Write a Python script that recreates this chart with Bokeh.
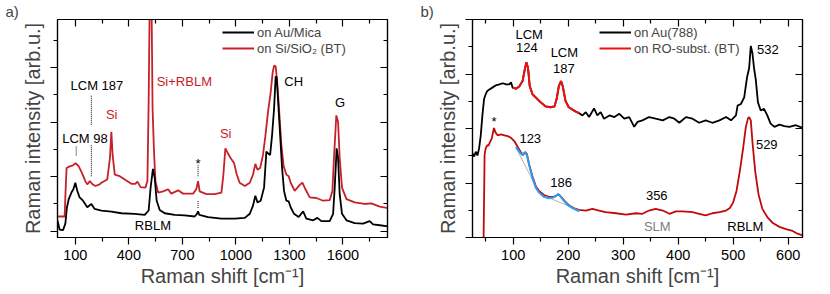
from bokeh.plotting import figure
from bokeh.layouts import row
from bokeh.models import (LinearAxis, FixedTicker, CustomJSTickFormatter, Legend,
                          LegendItem, ColumnDataSource)
from bokeh.core.properties import value
from bokeh.embed import file_html
from bokeh.resources import INLINE

FONT = "Liberation Sans"

# ---------------- panel a data ----------------
a_black_x = [0, 12, 31, 44, 53, 63, 78, 89, 100, 111, 124, 143, 167, 190, 208, 246, 302, 358, 433,
             489, 511, 522, 535, 545, 556, 573, 601, 657, 713, 769, 782, 788, 795, 844, 919, 993,
             1050, 1078, 1096, 1109, 1121, 1139, 1158, 1171, 1180, 1192, 1203, 1214, 1223, 1229,
             1236, 1248, 1259, 1270, 1283, 1296, 1307, 1326, 1352, 1377, 1395, 1433, 1457, 1479,
             1526, 1545, 1554, 1565, 1573, 1582, 1595, 1620, 1666, 1713, 1750, 1769, 1807, 1853]
a_black_y = [0.40, 0.06, 0.04, 0.28, 0.88, 1.18, 1.42, 1.54, 1.78, 1.48, 1.24, 1.12, 0.88, 1.00,
             0.82, 0.76, 0.72, 0.66, 0.64, 0.60, 0.76, 1.60, 2.29, 1.96, 1.12, 0.78, 0.66, 0.60,
             0.58, 0.54, 0.64, 0.73, 0.60, 0.52, 0.46, 0.46, 0.49, 0.64, 0.94, 1.30, 1.06, 1.12,
             1.60, 2.92, 2.86, 2.80, 3.53, 4.49, 5.69, 5.63, 4.85, 3.53, 2.32, 1.48, 1.12, 1.10,
             0.88, 0.64, 0.52, 0.73, 0.46, 0.40, 0.49, 0.37, 0.37, 0.64, 1.60, 3.04, 2.68, 1.36,
             0.64, 0.40, 0.30, 0.28, 0.37, 0.25, 0.22, 0.18]

a_red_x = [0, 40, 46, 51, 68, 87, 102, 119, 137, 156, 167, 182, 193, 212, 236, 246, 279, 294, 302,
           309, 321, 349, 377, 414, 436, 448, 466, 493, 504, 511, 517, 522, 527, 533, 541, 549,
           564, 592, 620, 638, 676, 704, 760, 778, 788, 797, 835, 881, 919, 930, 941, 952, 971,
           990, 1005, 1021, 1050, 1078, 1096, 1109, 1121, 1136, 1152, 1165, 1180, 1195, 1206,
           1214, 1223, 1232, 1242, 1255, 1268, 1283, 1296, 1307, 1330, 1358, 1373, 1390, 1414,
           1451, 1489, 1526, 1541, 1550, 1563, 1573, 1582, 1595, 1620, 1666, 1722, 1760, 1807, 1853]
a_red_y = [0.54, 0.54, 1.60, 2.32, 2.38, 2.42, 2.50, 2.38, 2.14, 1.84, 1.72, 1.84, 1.74, 1.66,
           1.72, 1.78, 1.90, 2.68, 3.65, 2.80, 2.08, 2.02, 1.90, 1.74, 1.74, 1.82, 1.62, 1.60,
           1.84, 4.73, 8.5, 9.8, 8.5, 4.5, 2.92, 1.84, 1.42, 1.46, 1.54, 1.38, 1.50, 1.38, 1.38,
           1.54, 1.84, 1.46, 1.36, 1.36, 1.42, 2.08, 3.04, 2.90, 2.68, 2.50, 2.08, 1.78, 1.66,
           1.78, 2.08, 2.47, 2.26, 2.32, 2.80, 3.47, 4.37, 5.09, 5.81, 6.08, 6.05, 5.45, 4.49,
           3.16, 2.38, 2.08, 2.02, 1.78, 1.48, 1.70, 1.78, 1.54, 1.24, 1.22, 1.12, 1.14, 1.48,
           2.68, 4.25, 4.01, 2.68, 1.60, 1.18, 1.06, 1.00, 1.02, 0.90, 0.85]

a_x_ticks = [100, 400, 700, 1000, 1300, 1600]
a_x_minor = [250, 550, 850, 1150, 1450, 1750]
a_y_ticks = [0, 2, 4, 6]
a_y_minor = [1, 3, 5, 7]

# annotations panel a
a_lab_text = ["LCM 187", "LCM 98", "Si", "Si+RBLM", "Si", "CH", "G", "RBLM", "*"]
a_lab_x = [221, 154, 304, 711, 943, 1324, 1584, 535, 788]
a_lab_y = [5.33, 3.41, 4.27, 5.49, 3.60, 5.49, 4.73, 0.22, 2.50]
a_lab_col = ["black", "black", "#c8202a", "#c8202a", "#c8202a", "black", "black", "black", "black"]
# dotted markers: x, y0, y1
a_mark_x = [105, 190, 190, 788, 788]
a_mark_y0 = [2.78, 3.91, 2.02, 2.02, 0.85]
a_mark_y1 = [3.14, 4.97, 3.16, 2.44, 1.14]

# ---------------- panel b data ----------------
b_black_x = [26, 29, 32, 35, 38, 41, 44, 47, 50, 53, 56, 62, 68, 75, 81, 87, 93, 96, 99, 105, 111,
             117, 121, 124, 127, 130, 135, 141, 150, 159, 168, 175, 179, 183, 187, 190, 195, 201,
             208, 214, 220, 226, 232, 238, 247, 253, 259, 265, 275, 284, 293, 302, 311, 320, 326,
             335, 347, 359, 372, 384, 393, 402, 414, 426, 438, 450, 462, 475, 487, 496, 505, 508,
             514, 520, 525, 529, 532, 535, 538, 541, 545, 550, 556, 562, 568, 575, 584, 593, 602,
             614, 626]
b_black_y = [3.09, 2.97, 3.15, 3.01, 3.27, 3.75, 4.48, 5.08, 5.26, 5.38, 5.42, 5.50, 5.58, 5.62,
             5.66, 5.62, 5.62, 5.70, 5.50, 5.46, 5.54, 5.74, 6.16, 6.43, 6.22, 5.56, 5.26, 5.14,
             4.96, 4.81, 4.78, 4.81, 5.08, 5.56, 5.74, 5.56, 5.02, 4.78, 4.69, 4.62, 4.56, 4.48,
             4.60, 4.42, 4.74, 4.48, 4.60, 4.36, 4.48, 4.42, 4.54, 4.36, 4.42, 4.06, 4.24, 4.30,
             4.42, 4.36, 4.30, 4.42, 4.36, 4.21, 4.42, 4.36, 4.21, 4.30, 4.21, 4.30, 4.42, 4.30,
             4.48, 4.84, 4.90, 5.14, 5.86, 6.22, 7.03, 6.76, 6.20, 5.80, 4.96, 4.66, 4.72, 4.48,
             4.18, 4.06, 4.14, 4.09, 4.06, 4.12, 4.02]

b_lcm_x = [99, 105, 111, 117, 121, 124, 127, 130, 135, 141, 150, 159, 168, 175, 179, 183, 187,
           190, 195, 201, 208, 214, 220]
b_lcm_y = [5.50, 5.46, 5.54, 5.74, 6.16, 6.43, 6.22, 5.56, 5.26, 5.14, 4.96, 4.81, 4.78, 4.81,
           5.08, 5.56, 5.74, 5.56, 5.02, 4.78, 4.69, 4.62, 4.56]

b_red_x = [46, 48, 50, 53, 55, 58, 61, 64, 65, 68, 72, 78, 84, 90, 96, 102, 108, 114, 118, 122,
           125, 129, 135, 141, 147, 156, 165, 173, 178, 182, 187, 193, 202, 211, 220, 232, 244,
           256, 268, 287, 305, 323, 335, 347, 359, 372, 384, 396, 408, 426, 438, 450, 462, 475,
           487, 494, 500, 506, 512, 518, 523, 527, 529, 532, 535, 540, 546, 553, 562, 572, 584,
           596, 608, 617, 626]
b_red_y = [-0.3, 3.03, 3.27, 3.39, 3.37, 3.51, 3.63, 3.93, 4.02, 3.85, 3.75, 3.78, 3.75, 3.72,
           3.66, 3.54, 3.33, 3.13, 3.03, 3.13, 3.06, 2.67, 2.25, 1.89, 1.71, 1.56, 1.49, 1.49,
           1.53, 1.59, 1.49, 1.35, 1.17, 1.07, 1.01, 0.99, 1.05, 0.99, 0.93, 0.89, 0.84, 0.89,
           0.87, 0.99, 1.05, 0.99, 0.87, 0.96, 0.96, 0.93, 0.87, 0.81, 0.89, 0.93, 0.99, 1.08,
           1.29, 1.71, 2.43, 3.27, 4.06, 4.38, 4.42, 4.30, 3.51, 2.43, 1.59, 1.05, 0.75, 0.53,
           0.39, 0.31, 0.24, 0.14, 0.08]

b_fit_x = [105, 111, 116, 119, 122, 125, 129, 135, 141, 147, 156, 165, 173, 178, 182, 185, 191,
           199, 208, 220]
b_fit_y = [3.33, 3.15, 3.03, 3.09, 3.13, 3.01, 2.67, 2.19, 1.83, 1.65, 1.49, 1.44, 1.47, 1.53,
           1.59, 1.54, 1.37, 1.20, 1.08, 0.96]

b_base_x0 = [105, 160]
b_base_y0 = [3.30, 1.50]
b_base_x1 = [143, 220]
b_base_y1 = [1.80, 0.99]

b_x_ticks = [100, 200, 300, 400, 500, 600]
b_x_minor = [50, 150, 250, 350, 450, 550]
b_y_ticks = [0, 2, 4, 6, 8]
b_y_minor = [1, 3, 5, 7]

b_lab_text = ["LCM", "124", "LCM", "187", "532", "*", "123", "186", "356", "529", "SLM", "RBLM"]
b_lab_x = [129, 125, 193, 192, 563, 65, 131, 187, 361, 561, 362, 522]
b_lab_y = [7.46, 6.98, 6.80, 6.20, 6.90, 4.25, 3.65, 2.01, 1.53, 3.40, 0.42, 0.42]
b_lab_col = ["black"] * 10 + ["#808080", "black"]


def empty_fmt():
    return CustomJSTickFormatter(code="return ''")


def make_fig(xr, yr, xt, xm, yt, ym, letter):
    p = figure(width=415, height=294, x_range=xr, y_range=yr, output_backend="svg",
               toolbar_location=None, min_border_left=57, min_border_right=28,
               min_border_top=0, min_border_bottom=57, background_fill_color="white",
               border_fill_color="white", outline_line_color="black", outline_line_width=1.2)
    p.grid.visible = False
    p.title.text = letter
    p.title.align = "left"
    p.title.offset = -52
    p.title.standoff = 0
    p.title.text_font = FONT
    p.title.text_font_style = "normal"
    p.title.text_font_size = "15px"
    xa = p.xaxis[0]
    xa.ticker = FixedTicker(ticks=xt, minor_ticks=xm)
    xa.major_tick_out = 7; xa.major_tick_in = 0
    xa.minor_tick_out = 4; xa.minor_tick_in = 0
    xa.major_label_text_font = FONT
    xa.major_label_text_font_size = "14.5px"
    xa.major_label_text_color = "black"
    xa.major_label_standoff = 5
    xa.axis_label = "Raman shift [cm\u207b\u00b9]"
    xa.axis_label_text_font = FONT
    xa.axis_label_text_font_style = "normal"
    xa.axis_label_text_font_size = "20px"
    xa.axis_label_standoff = 2
    ya = p.yaxis[0]
    ya.ticker = FixedTicker(ticks=yt, minor_ticks=ym)
    ya.formatter = empty_fmt()
    ya.major_label_text_font_size = "0px"
    ya.major_label_standoff = 0
    ya.major_tick_out = 7; ya.major_tick_in = 0
    ya.minor_tick_out = 4; ya.minor_tick_in = 0
    ya.axis_label = "Raman intensity [arb.u.]"
    ya.axis_label_text_font = FONT
    ya.axis_label_text_font_style = "normal"
    ya.axis_label_text_font_size = "20px"
    ya.axis_label_standoff = 7
    for ax in (xa, ya):
        ax.axis_line_width = 1.2
        ax.major_tick_line_width = 1.2
        ax.minor_tick_line_width = 1.2
    top = LinearAxis(ticker=FixedTicker(ticks=xt, minor_ticks=xm), formatter=empty_fmt(),
                     major_tick_in=7, major_tick_out=0, minor_tick_in=4, minor_tick_out=0,
                     major_label_text_font_size="0px", major_label_standoff=0,
                     axis_line_width=1.2, major_tick_line_width=1.2, minor_tick_line_width=1.2)
    right = LinearAxis(ticker=FixedTicker(ticks=yt, minor_ticks=ym), formatter=empty_fmt(),
                       major_tick_in=7, major_tick_out=0, minor_tick_in=4, minor_tick_out=0,
                       major_label_text_font_size="0px", major_label_standoff=0,
                       axis_line_width=1.2, major_tick_line_width=1.2, minor_tick_line_width=1.2)
    p.add_layout(top, "above")
    p.add_layout(right, "right")
    return p


def make_legend(items, x):
    return Legend(items=items, location=(x, 181), glyph_width=32, glyph_height=16,
                  label_height=16, label_standoff=3, padding=0, spacing=0, margin=0,
                  border_line_color=None, background_fill_alpha=0, label_text_font=FONT,
                  label_text_font_size="13px")


# ---------------- panel a ----------------
pa = make_fig((0, 1850), (-0.23, 7.77), a_x_ticks, a_x_minor, a_y_ticks, a_y_minor, "a)")
pa.segment(x0=a_mark_x, y0=a_mark_y0, x1=a_mark_x, y1=a_mark_y1, line_color="#333333",
           line_width=1.2, line_dash="1 1")
ra_red = pa.line(a_red_x, a_red_y, line_color="#c8202a", line_width=1.8)
ra_black = pa.line(a_black_x, a_black_y, line_color="black", line_width=1.8)
src_a = ColumnDataSource(dict(x=a_lab_x, y=a_lab_y, t=a_lab_text, c=a_lab_col))
pa.text(x="x", y="y", text="t", text_color="c", source=src_a, text_font=value(FONT),
        text_font_size="13px", text_align="center", text_baseline="middle")
pa.add_layout(make_legend([LegendItem(label="on Au/Mica", renderers=[ra_black]),
                           LegendItem(label="on Si/SiO\u2082 (BT)", renderers=[ra_red])], 165))

# ---------------- panel b ----------------
pb = make_fig((26, 626), (0, 8), b_x_ticks, b_x_minor, b_y_ticks, b_y_minor, "b)")
rb_black = pb.line(b_black_x, b_black_y, line_color="black", line_width=1.8)
rb_lcm = pb.line(b_lcm_x, b_lcm_y, line_color="#f01010", line_width=2)
rb_red = pb.line(b_red_x, b_red_y, line_color="#c00a0a", line_width=1.8)
pb.segment(x0=b_base_x0, y0=b_base_y0, x1=b_base_x1, y1=b_base_y1, line_color="#b4b4b4",
           line_width=1)
pb.line(b_fit_x, b_fit_y, line_color="#2a9df0", line_width=2)
src_b = ColumnDataSource(dict(x=b_lab_x, y=b_lab_y, t=b_lab_text, c=b_lab_col))
pb.text(x="x", y="y", text="t", text_color="c", source=src_b, text_font=value(FONT),
        text_font_size="13px", text_align="center", text_baseline="middle")
pb.add_layout(make_legend([LegendItem(label="on Au(788)", renderers=[rb_black]),
                           LegendItem(label="on RO-subst. (BT)", renderers=[rb_lcm])], 127))

layout = row(pa, pb)
open("out.html", "w").write(file_html(layout, INLINE))
